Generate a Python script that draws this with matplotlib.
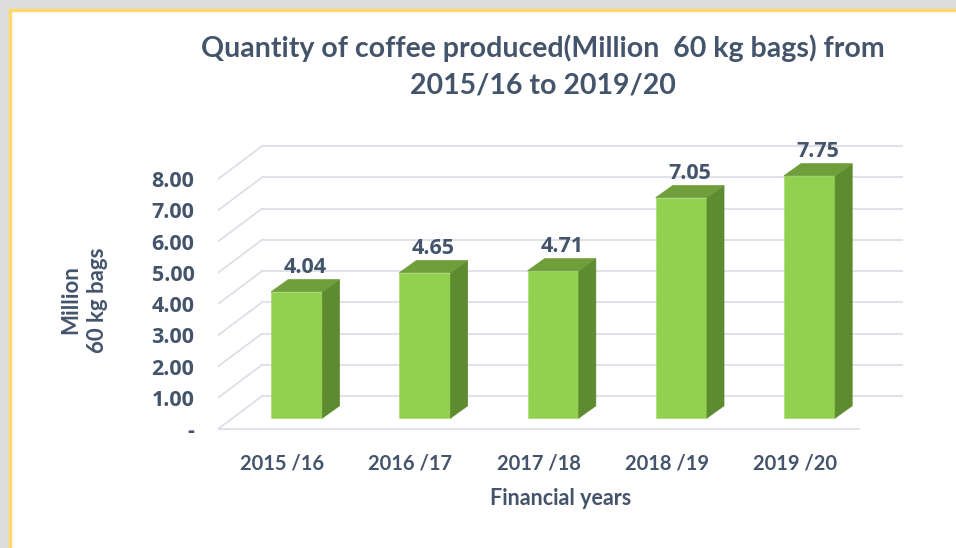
import matplotlib.pyplot as plt
from matplotlib.patches import Polygon, Rectangle

# coffee output per financial year, million 60 kg bags
years = ['2015 /16', '2016 /17', '2017 /18', '2018 /19', '2019 /20']
bags = [4.04, 4.65, 4.71, 7.05, 7.75]
y_ticks = [0, 1, 2, 3, 4, 5, 6, 7, 8]

TEXT = '#44546A'
GRID = '#D9DDE4'
FRONT = '#92D050'
SIDE = '#5E8A30'
TOP = '#6F9E3B'

# fake 3d: offset of the back wall from the front plane, in data units
DX, DY = 0.344, 1.056
# bars sit a third of the way into the box, and are this deep
BX, BY = DX / 3, DY / 3
DEPTH_X, DEPTH_Y = 0.133, 0.39
W = 0.4

fig = plt.figure(figsize=(9.56, 5.48), dpi=100)
fig.patch.set_facecolor('#DDDDDD')
fig.patches.append(Rectangle((9.5 / 956, -0.1), 1.2, 1.1 - 9.5 / 548,
                             transform=fig.transFigure, facecolor='white',
                             edgecolor='#FFD966', lw=2.4, zorder=-5))

ax = fig.add_axes([218 / 956, 109.6 / 548, 685 / 956, 300 / 548])
ax.set_xlim(0, len(years) + DX)
ax.set_ylim(-0.3, 9.3)
ax.patch.set_visible(False)
for s in ax.spines.values():
    s.set_visible(False)

# walls: diagonal on the left, horizontal lines at the back, floor edge in front
for v in y_ticks:
    ax.plot([0, DX], [v, v + DY], color=GRID, lw=1.2, zorder=1)
    ax.plot([DX, len(years) + DX], [v + DY, v + DY], color=GRID, lw=1.2, zorder=1)
ax.plot([0, len(years)], [0, 0], color=GRID, lw=1.2, zorder=1)

for i, v in enumerate(bags):
    x0 = i + 0.5 + BX - W / 2
    ax.bar(x0, v, width=W, bottom=BY, align='edge', color=FRONT,
           edgecolor='#A6DC6E', lw=0.5, zorder=3)
    top = BY + v
    ax.add_patch(Polygon([(x0 + W, BY), (x0 + W + DEPTH_X, BY + DEPTH_Y),
                          (x0 + W + DEPTH_X, top + DEPTH_Y), (x0 + W, top)],
                         closed=True, facecolor=SIDE, edgecolor=SIDE, lw=0.5, zorder=3))
    ax.add_patch(Polygon([(x0, top), (x0 + DEPTH_X, top + DEPTH_Y),
                          (x0 + W + DEPTH_X, top + DEPTH_Y), (x0 + W, top)],
                         closed=True, facecolor=TOP, edgecolor=TOP, lw=0.5, zorder=3))
    ax.text(i + 0.5 + BX + DEPTH_X / 2, top + DEPTH_Y + 0.38, f'{v:.2f}',
            ha='center', va='center', fontsize=15.5, fontweight='bold',
            family='Open Sans', color=TEXT)

ax.set_yticks(y_ticks)
ax.set_yticklabels(['-' if v == 0 else f'{v:.2f}' for v in y_ticks])
ax.set_xticks([i + 0.5 for i in range(len(years))])
ax.set_xticklabels(years)
ax.tick_params(axis='y', length=0, pad=17, labelsize=15.5, labelcolor=TEXT)
ax.tick_params(axis='x', length=0, pad=11, labelsize=14.5, labelcolor=TEXT)
for lbl in ax.get_yticklabels():
    lbl.set_family('Open Sans')
    lbl.set_fontweight('bold')
for lbl in ax.get_xticklabels():
    lbl.set_family('Lato')
    lbl.set_fontweight('bold')

ax.set_xlabel('Financial years', family='Lato', fontweight='bold',
              fontsize=15.5, color=TEXT, labelpad=10)

fig.text(84 / 956, 1 - 300 / 548, 'Million\n60 kg bags', rotation=90,
         ha='center', va='center', multialignment='center', family='Lato',
         fontweight='bold', fontsize=16, color=TEXT, linespacing=1.3)

fig.text(543 / 956, 1 - 66 / 548,
         'Quantity of coffee produced(Million  60 kg bags) from\n2015/16 to 2019/20',
         ha='center', va='center', family='Lato', fontweight='bold',
         fontsize=20.5, color=TEXT, linespacing=1.5)

fig.savefig('out.png', dpi=100, facecolor=fig.get_facecolor())
